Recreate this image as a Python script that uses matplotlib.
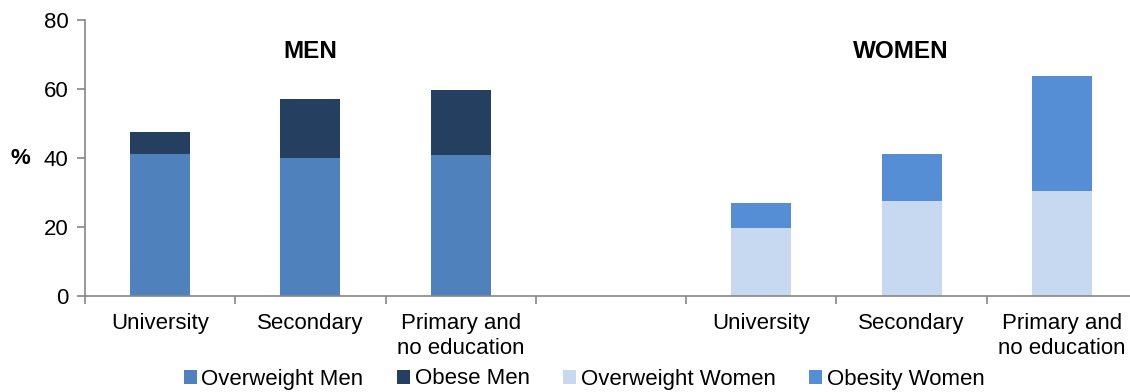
import matplotlib
matplotlib.use("Agg")
import matplotlib.pyplot as plt
import numpy as np

plt.rcParams['font.family'] = ['Liberation Sans', 'DejaVu Sans']

# Education levels and shares (%) of adults by sex
education = ["University", "Secondary", "Primary and\nno education"]
overweight_men = [41.3, 40.1, 41.0]
obese_men = [6.1, 17.0, 18.8]
overweight_women = [19.6, 27.4, 30.5]
obesity_women = [7.4, 13.9, 33.2]
y_ticks = [0, 20, 40, 60, 80]

c_ow_men = "#4F81BD"
c_ob_men = "#243F60"
c_ow_wom = "#C6D9F1"
c_ob_wom = "#558ED5"
axis_grey = "#868686"

FS = 16
W, H, DPI = 1130, 392, 100
fig = plt.figure(figsize=(W / DPI, H / DPI), dpi=DPI)
x0, x1 = 85, 1137
y0, y1 = 296, 20
ax = fig.add_axes([x0 / W, 1 - y0 / H, (x1 - x0) / W, (y0 - y1) / H])

n = len(education)
men_x = np.arange(n) + 0.5
women_x = np.arange(n) + n + 1 + 0.5
bw = 0.4

ax.bar(men_x, overweight_men, bw, color=c_ow_men, label="Overweight Men")
ax.bar(men_x, obese_men, bw, bottom=overweight_men, color=c_ob_men, label="Obese Men")
ax.bar(women_x, overweight_women, bw, color=c_ow_wom, label="Overweight Women")
ax.bar(women_x, obesity_women, bw, bottom=overweight_women, color=c_ob_wom,
       label="Obesity Women")

ax.set_xlim(0, 2 * n + 1)
ax.set_ylim(y_ticks[0], y_ticks[-1])
ax.set_yticks(y_ticks)
ax.set_yticklabels([str(t) for t in y_ticks], fontsize=FS)

ax.set_xticks(list(men_x) + list(women_x))
ax.set_xticklabels(education + education, fontsize=FS, linespacing=1.25)
ax.set_xticks(np.arange(0, 2 * n + 2), minor=True)
ax.tick_params(axis='x', which='major', length=0, pad=12)
ax.tick_params(axis='x', which='minor', length=6, color=axis_grey, width=1.2)
ax.tick_params(axis='y', length=6, color=axis_grey, width=1.2, pad=6)

for s in ("top", "right"):
    ax.spines[s].set_visible(False)
for s in ("left", "bottom"):
    ax.spines[s].set_color(axis_grey)
    ax.spines[s].set_linewidth(1.2)

ax.text(men_x[1], 71.0, "MEN", ha="center", va="center", fontsize=17.5,
        fontweight="bold")
ax.text(women_x[1] - 0.07, 71.0, "WOMEN", ha="center", va="center", fontsize=17.5,
        fontweight="bold")
fig.text(20 / W, 1 - 158 / H, "%", ha="center", va="center", fontsize=FS,
         fontweight="bold")

fig.legend(loc="center", bbox_to_anchor=(584 / W, 1 - 379 / H), ncol=4,
           frameon=False, fontsize=FS, handlelength=0.6, handleheight=0.6,
           handletextpad=0.2, columnspacing=1.5, borderpad=0, borderaxespad=0)

fig.savefig("out.png", dpi=DPI)
